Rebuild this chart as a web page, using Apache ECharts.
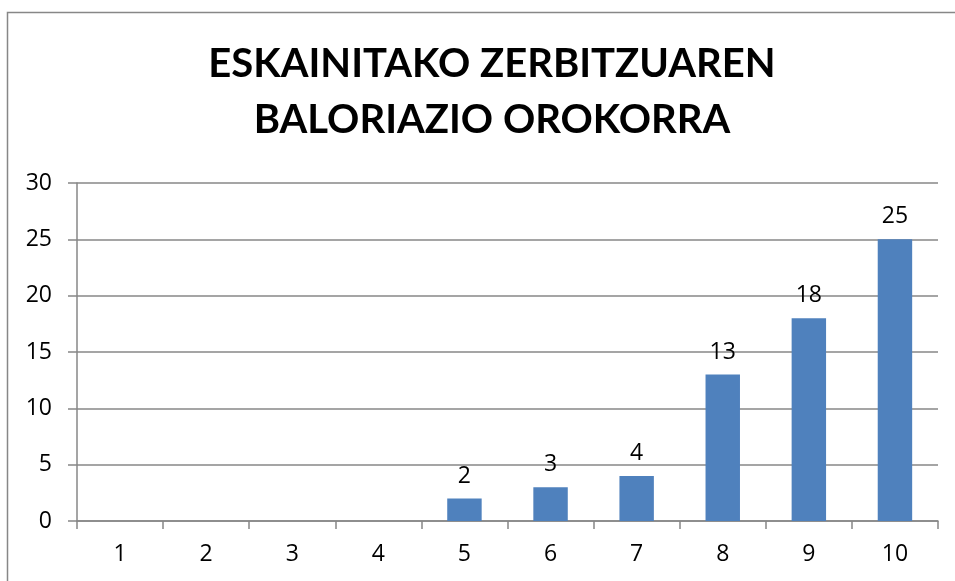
<!DOCTYPE html>
<html>
<head>
<meta charset="utf-8">
<script src="https://cdn.jsdelivr.net/npm/echarts@6/dist/echarts.min.js"></script>
<style>
  html, body { margin: 0; padding: 0; background: #ffffff; }
  #main { width: 955px; height: 581px; }
</style>
</head>
<body>
<div id="main"></div>
<script>
  // balorazioak 1..10
  var categories = ['1', '2', '3', '4', '5', '6', '7', '8', '9', '10'];
  var values = [0, 0, 0, 0, 2, 3, 4, 13, 18, 25];
  var yTicks = [0, 5, 10, 15, 20, 25, 30];
  var titleLines = ['ESKAINITAKO ZERBITZUAREN', 'BALORIAZIO OROKORRA'];

  var chart = echarts.init(document.getElementById('main'));
  var lineColor = '#878787';
  var numFont = 'Open Sans';

  chart.setOption({
    animation: false,
    title: {
      text: titleLines.join('\n'),
      left: 487,
      top: 31,
      textAlign: 'center',
      textStyle: {
        fontFamily: 'Lato',
        fontWeight: 'bold',
        fontSize: 40,
        lineHeight: 56,
        color: '#000'
      }
    },
    graphic: [{
      type: 'rect',
      shape: { x: 7.5, y: 12.5, width: 1000, height: 1000 },
      style: { fill: 'none', stroke: lineColor, lineWidth: 1.5 },
      silent: true
    }],
    grid: { left: 77, right: 17, top: 183, bottom: 60 },
    xAxis: {
      type: 'category',
      data: categories,
      axisLine: { lineStyle: { color: lineColor, width: 1.5 } },
      axisTick: { show: true, length: 8, lineStyle: { color: lineColor, width: 1.5 } },
      axisLabel: { margin: 22, fontFamily: numFont, fontSize: 23, color: '#000' }
    },
    yAxis: {
      type: 'value',
      min: yTicks[0],
      max: yTicks[yTicks.length - 1],
      interval: 5,
      axisLine: { show: true, lineStyle: { color: lineColor, width: 1.5 } },
      axisTick: { show: true, length: 9, lineStyle: { color: lineColor, width: 1.5 } },
      axisLabel: { margin: 25, fontFamily: numFont, fontSize: 23, color: '#000' },
      splitLine: { show: true, lineStyle: { color: lineColor, width: 1.5 } }
    },
    series: [{
      type: 'bar',
      data: values,
      barWidth: '40%',
      itemStyle: { color: '#4F81BD' },
      label: {
        show: true,
        position: 'top',
        distance: 11,
        fontFamily: numFont,
        fontSize: 23,
        color: '#000',
        formatter: function (p) { return p.value === 0 ? '' : p.value; }
      }
    }]
  });
</script>
</body>
</html>
